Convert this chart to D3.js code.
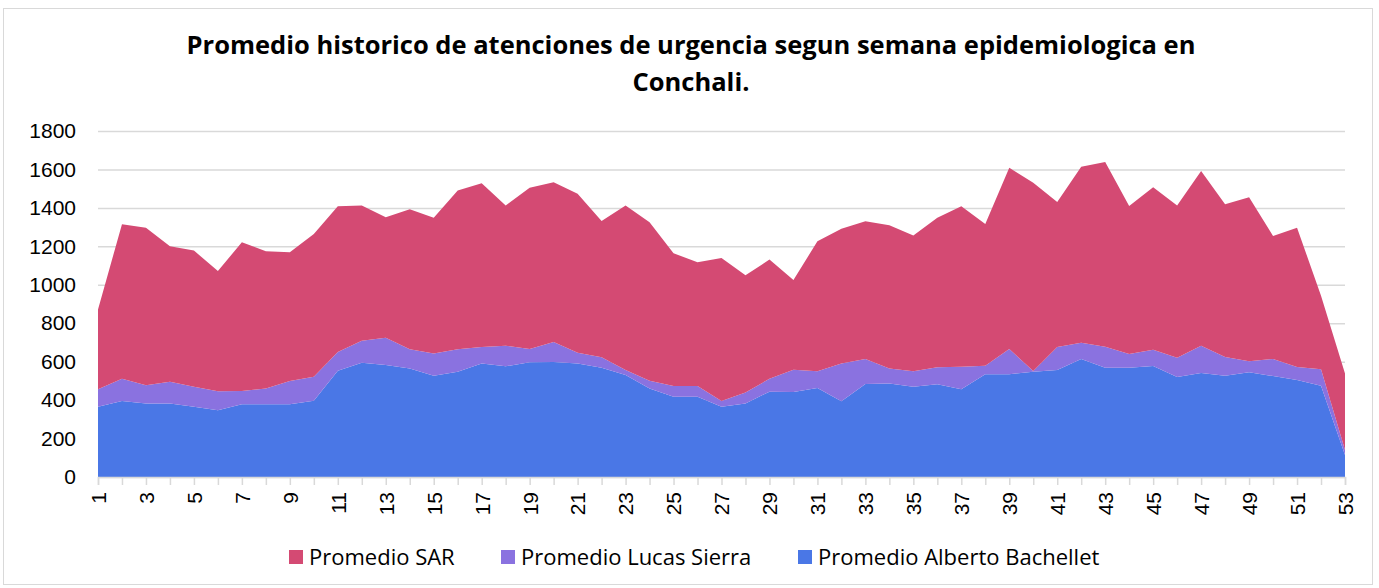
<!DOCTYPE html>
<html>
<head>
<meta charset="utf-8">
<script src="https://cdn.jsdelivr.net/npm/d3@7"></script>
<style>
  body { margin: 0; background: #fff; }
  svg { display: block; font-family: "Open Sans", "Liberation Sans", Arial, sans-serif; }
</style>
</head>
<body>
<svg id="chart" width="1379" height="588"></svg>
<script>
// semanas epidemiologicas 1..53
var weeks = d3.range(1, 54);

// promedios por semana
var alberto = [366, 395, 383, 382, 366, 347, 378, 378, 378, 397,
    553, 595, 583, 564, 527, 548, 590, 576, 597, 598,
    590, 569, 531, 461, 418, 418, 366, 382, 444, 442,
    463, 394, 484, 486, 470, 482, 456, 534, 534, 548,
    557, 614, 569, 569, 578, 520, 541, 527, 545, 525,
    505, 475, 114];
var lucas = [90, 116, 94, 114, 104, 99, 69, 82, 122, 125,
    97, 114, 142, 100, 116, 116, 86, 107, 69, 104,
    57, 54, 26, 40, 55, 55, 29, 57, 67, 116,
    87, 196, 130, 79, 80, 89, 118, 45, 132, 3,
    119, 85, 109, 71, 84, 101, 142, 97, 57, 89,
    67, 85, 26];
var sar = [416, 804, 820, 704, 708, 626, 774, 714, 669, 742,
    758, 703, 626, 729, 706, 826, 852, 730, 839, 831,
    827, 709, 856, 824, 691, 644, 744, 610, 620, 467,
    676, 702, 716, 745, 707, 778, 834, 737, 943, 980,
    755, 915, 961, 770, 845, 792, 909, 795, 853, 640,
    725, 383, 399];

var yTicks = [0, 200, 400, 600, 800, 1000, 1200, 1400, 1600, 1800];
var seriesKeys = ["alberto", "lucas", "sar"];
var seriesNames = {
    sar: "Promedio SAR",
    lucas: "Promedio Lucas Sierra",
    alberto: "Promedio Alberto Bachellet"
};
var colors = { sar: "#d44a73", lucas: "#8a72e0", alberto: "#4a77e6" };

var svg = d3.select("#chart");

// borde del area del grafico
svg.append("rect")
    .attr("x", 3.5).attr("y", 8.5)
    .attr("width", 1369).attr("height", 576)
    .attr("fill", "#fff")
    .attr("stroke", "#d9d9d9");

// titulo
var title = svg.append("text")
    .attr("text-anchor", "middle")
    .attr("font-weight", "bold")
    .attr("font-size", 25.5)
    .attr("fill", "#000");
title.append("tspan").attr("x", 691).attr("y", 54)
    .text("Promedio historico de atenciones de urgencia segun semana epidemiologica en");
title.append("tspan").attr("x", 691).attr("y", 91)
    .text("Conchali.");

var x = d3.scaleLinear().domain([1, 53]).range([98, 1345]);
var y = d3.scaleLinear().domain([0, 1800]).range([477, 131]);

var rows = weeks.map(function (w, i) {
    return { week: w, alberto: alberto[i], lucas: lucas[i], sar: sar[i] };
});
var stacked = d3.stack().keys(seriesKeys)(rows);

// lineas de cuadricula
svg.append("g")
    .selectAll("line")
    .data(yTicks)
    .join("line")
    .attr("x1", 98).attr("x2", 1345)
    .attr("y1", function (d) { return y(d) + 0.5; })
    .attr("y2", function (d) { return y(d) + 0.5; })
    .attr("stroke", "#d9d9d9")
    .attr("stroke-width", 1.5);

var area = d3.area()
    .x(function (d) { return x(d.data.week); })
    .y0(function (d) { return y(d[0]); })
    .y1(function (d) { return y(d[1]); });

svg.append("g")
    .selectAll("path")
    .data(stacked)
    .join("path")
    .attr("fill", function (d) { return colors[d.key]; })
    .attr("d", area);

// eje y
var yAxis = svg.append("g")
    .attr("transform", "translate(98,0)")
    .call(d3.axisLeft(y).tickValues(yTicks).tickSize(0).tickPadding(22)
        .tickFormat(d3.format("d")));
yAxis.select(".domain").remove();
yAxis.selectAll("text")
    .attr("font-size", 21)
    .attr("fill", "#000")
    .attr("font-family", "Liberation Sans, Arial, sans-serif");

// eje x
var xAxis = svg.append("g")
    .attr("transform", "translate(0,477)")
    .call(d3.axisBottom(x).tickValues(weeks).tickSize(8).tickFormat(function (d) {
        return d % 2 === 1 ? d : "";
    }));
xAxis.select(".domain").attr("stroke", "#d9d9d9").attr("stroke-width", 1.5);
xAxis.selectAll(".tick line").attr("stroke", "#d9d9d9").attr("stroke-width", 1.5);
xAxis.selectAll("text")
    .attr("font-size", 21)
    .attr("fill", "#000")
    .attr("font-family", "Liberation Sans, Arial, sans-serif")
    .attr("text-anchor", "end")
    .attr("transform", "rotate(-90)")
    .attr("x", -15)
    .attr("y", 0)
    .attr("dy", "0.35em");

// leyenda
var legendItems = [
    { key: "sar", x: 289 },
    { key: "lucas", x: 501 },
    { key: "alberto", x: 798 }
];
var legend = svg.append("g")
    .selectAll("g")
    .data(legendItems)
    .join("g")
    .attr("transform", function (d) { return "translate(" + d.x + ",550)"; });
legend.append("rect")
    .attr("width", 14).attr("height", 14)
    .attr("fill", function (d) { return colors[d.key]; });
legend.append("text")
    .attr("x", 20).attr("y", 14.5)
    .attr("font-size", 22)
    .attr("fill", "#000")
    .text(function (d) { return seriesNames[d.key]; });
</script>
</body>
</html>
